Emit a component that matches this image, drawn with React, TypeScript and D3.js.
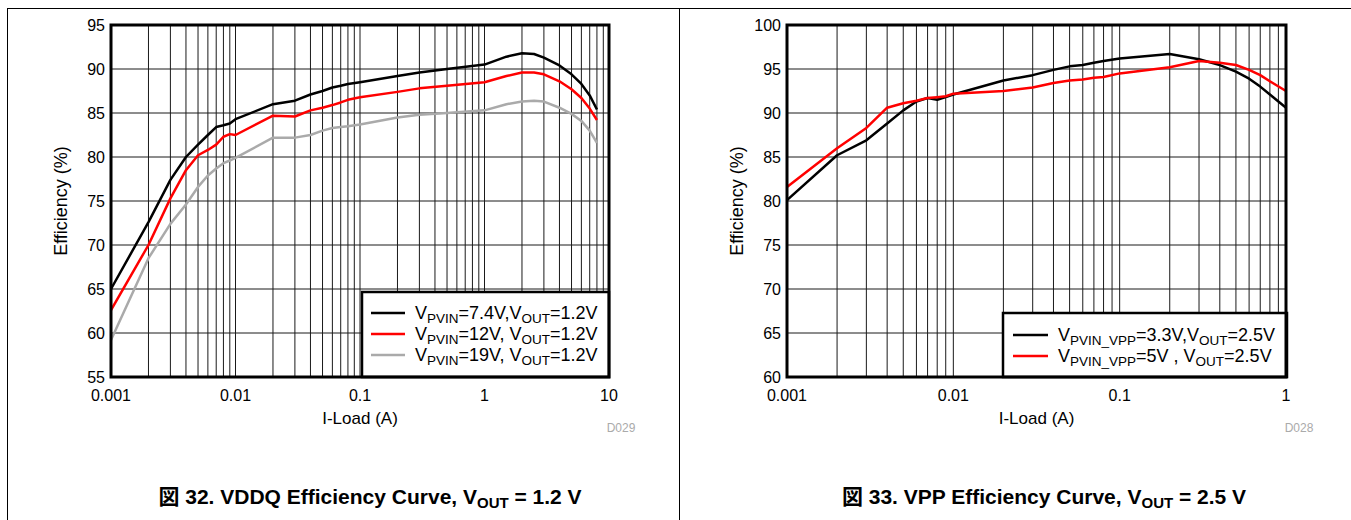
import React from 'react';
import * as d3 from 'd3';

// ---------- DATA ----------
const leftLoads = [0.001, 0.002, 0.003, 0.004, 0.005, 0.006, 0.007, 0.008, 0.009, 0.01, 0.02, 0.03, 0.04, 0.05, 0.06, 0.07, 0.08, 0.1, 0.2, 0.3, 0.5, 1, 1.5, 2, 2.5, 3, 4, 5, 6, 7, 8];
const leftPvin74 = [65, 72.6, 77.4, 80.0, 81.4, 82.5, 83.4, 83.6, 83.8, 84.3, 86.0, 86.4, 87.1, 87.5, 87.9, 88.1, 88.3, 88.5, 89.2, 89.6, 90.0, 90.5, 91.4, 91.8, 91.7, 91.3, 90.4, 89.4, 88.3, 87.0, 85.4];
const leftPvin12 = [62.6, 70.0, 75.3, 78.5, 80.2, 80.8, 81.4, 82.3, 82.6, 82.5, 84.7, 84.6, 85.3, 85.6, 85.9, 86.2, 86.5, 86.8, 87.4, 87.8, 88.1, 88.5, 89.2, 89.6, 89.6, 89.4, 88.6, 87.7, 86.7, 85.5, 84.2];
const leftPvin19 = [59.2, 68.5, 72.4, 74.6, 76.6, 77.9, 78.7, 79.3, 79.6, 79.9, 82.2, 82.2, 82.5, 83.0, 83.3, 83.4, 83.5, 83.7, 84.5, 84.8, 85.0, 85.3, 86.0, 86.3, 86.4, 86.3, 85.6, 84.9, 84.1, 83.0, 81.6];
const leftYTicks = [55, 60, 65, 70, 75, 80, 85, 90, 95];
const leftXTicks = [0.001, 0.01, 0.1, 1, 10];
const leftXTickLabels = ['0.001', '0.01', '0.1', '1', '10'];

const rightLoads = [0.001, 0.002, 0.003, 0.004, 0.005, 0.006, 0.007, 0.008, 0.009, 0.01, 0.02, 0.03, 0.04, 0.05, 0.06, 0.07, 0.08, 0.1, 0.2, 0.3, 0.4, 0.5, 0.6, 0.7, 0.8, 1];
const rightPvin33 = [80.1, 85.2, 86.9, 88.8, 90.3, 91.3, 91.7, 91.5, 91.8, 92.1, 93.7, 94.3, 94.9, 95.3, 95.45, 95.7, 95.9, 96.2, 96.7, 96.1, 95.45, 94.7, 93.9, 93.0, 92.1, 90.6];
const rightPvin5 = [81.6, 86.0, 88.3, 90.6, 91.1, 91.4, 91.7, 91.8, 91.9, 92.2, 92.5, 92.9, 93.4, 93.7, 93.8, 94.0, 94.1, 94.5, 95.2, 95.9, 95.7, 95.45, 94.9, 94.3, 93.6, 92.5];
const rightYTicks = [60, 65, 70, 75, 80, 85, 90, 95, 100];
const rightXTicks = [0.001, 0.01, 0.1, 1];
const rightXTickLabels = ['0.001', '0.01', '0.1', '1'];

const FONT = '"Liberation Sans", Arial, sans-serif';

type Seg = { t: string; sub?: boolean };
type LegendItem = { color: string; parts: Seg[] };
type Series = { color: string; loads: number[]; values: number[] };

function SubText({ x, y, parts, size, subSize }: { x: number; y: number; parts: Seg[]; size: number; subSize: number }) {
  return (
    <text x={x} y={y} fontSize={size} fontFamily={FONT} fill="#000">
      {parts.map((p, i) => {
        const prevSub = i > 0 && parts[i - 1].sub;
        let dy = 0;
        if (p.sub && !prevSub) dy = 4;
        if (!p.sub && prevSub) dy = -4;
        return (
          <tspan key={i} dy={dy} fontSize={p.sub ? subSize : size}>{p.t}</tspan>
        );
      })}
    </text>
  );
}

function Panel(props: {
  xDomain: [number, number]; xRange: [number, number];
  yDomain: [number, number]; yRange: [number, number];
  yTicks: number[]; xTicks: number[]; xTickLabels: string[];
  series: Series[];
  legend: LegendItem[];
  legendBox: { x0: number; y0: number; x1: number; y1: number; rowY: number[]; lx0: number; lx1: number; tx: number };
  code: string; codeX: number;
}) {
  const x = d3.scaleLog().domain(props.xDomain).range(props.xRange);
  const y = d3.scaleLinear().domain(props.yDomain).range(props.yRange);
  const [xa, xb] = props.xRange;
  const [yb, ya] = props.yRange; // yb bottom, ya top
  const minor: number[] = [];
  let dec = props.xDomain[0];
  while (dec < props.xDomain[1] * 0.999) {
    for (let k = 2; k <= 9; k++) minor.push(dec * k);
    minor.push(dec * 10);
    dec *= 10;
  }
  const line = d3.line<[number, number]>().x(d => x(d[0])).y(d => y(d[1]));
  const lb = props.legendBox;
  const midX = (xa + xb) / 2;
  return (
    <g>
      {/* grid */}
      {minor.map((v, i) => (
        <line key={'v' + i} x1={x(v)} x2={x(v)} y1={ya} y2={yb} stroke="#1a1a1a" strokeWidth={1} />
      ))}
      {props.yTicks.map((v, i) => (
        <line key={'h' + i} x1={xa} x2={xb} y1={y(v)} y2={y(v)} stroke="#1a1a1a" strokeWidth={1} />
      ))}
      {/* series */}
      {props.series.map((s, i) => (
        <path key={'s' + i} d={line(s.loads.map((l, j) => [l, s.values[j]] as [number, number])) || ''}
          fill="none" stroke={s.color} strokeWidth={2.5} strokeLinejoin="round" />
      ))}
      {/* legend */}
      <rect x={lb.x0} y={lb.y0} width={lb.x1 - lb.x0} height={lb.y1 - lb.y0} fill="#fff" stroke="#000" strokeWidth={2.5} />
      {props.legend.map((it, i) => (
        <g key={'l' + i}>
          <line x1={lb.lx0} x2={lb.lx1} y1={lb.rowY[i]} y2={lb.rowY[i]} stroke={it.color} strokeWidth={2.5} />
          <SubText x={lb.tx} y={lb.rowY[i] + 6} parts={it.parts} size={18} subSize={13.5} />
        </g>
      ))}
      {/* frame */}
      <rect x={xa} y={ya} width={xb - xa} height={yb - ya} fill="none" stroke="#000" strokeWidth={3} />
      {/* y ticks */}
      {props.yTicks.map((v, i) => (
        <text key={'yt' + i} x={xa - 6} y={y(v) + 6} textAnchor="end" fontSize={16} fontFamily={FONT}>{v}</text>
      ))}
      {props.xTicks.map((v, i) => (
        <text key={'xt' + i} x={x(v)} y={yb + 24} textAnchor="middle" fontSize={16} fontFamily={FONT}>{props.xTickLabels[i]}</text>
      ))}
      <text x={midX} y={yb + 47} textAnchor="middle" fontSize={17} fontFamily={FONT}>I-Load (A)</text>
      <text transform={`translate(${xa - 44},${(ya + yb) / 2}) rotate(-90)`} textAnchor="middle" fontSize={18} fontFamily={FONT}>Efficiency (%)</text>
      <text x={props.codeX} y={yb + 55} textAnchor="middle" fontSize={12} fontFamily={FONT} fill="#aaa">{props.code}</text>
    </g>
  );
}

function Caption({ cx, num, title, vout }: { cx: number; num: string; title: string; vout: string }) {
  return (
    <text x={cx} y={504} textAnchor="middle" fontSize={21} fontWeight="bold" fontFamily={FONT}>
      <tspan fontFamily='"Noto Sans CJK JP", sans-serif'>図</tspan>
      <tspan>{` ${num}. ${title}, V`}</tspan>
      <tspan fontSize={15} dy={4}>OUT</tspan>
      <tspan dy={-4}>{` = ${vout}`}</tspan>
    </text>
  );
}

export default function App() {
  return (
    <svg width={1351} height={520} style={{ position: 'absolute', left: 0, top: 0, background: '#fff' }}>
      <rect x={0} y={0} width={1351} height={520} fill="#fff" />
      {/* outer frame */}
      <line x1={7} x2={1351} y1={8.5} y2={8.5} stroke="#000" strokeWidth={1} />
      <line x1={7.5} x2={7.5} y1={8} y2={520} stroke="#000" strokeWidth={1} />
      <line x1={679.5} x2={679.5} y1={8} y2={520} stroke="#000" strokeWidth={1} />

      <Panel
        xDomain={[0.001, 10]} xRange={[111, 609]}
        yDomain={[55, 95]} yRange={[377, 25]}
        yTicks={leftYTicks} xTicks={leftXTicks} xTickLabels={leftXTickLabels}
        series={[
          { color: '#000', loads: leftLoads, values: leftPvin74 },
          { color: '#ff0000', loads: leftLoads, values: leftPvin12 },
          { color: '#aaaaaa', loads: leftLoads, values: leftPvin19 },
        ]}
        legend={[
          { color: '#000', parts: [{ t: 'V' }, { t: 'PVIN', sub: true }, { t: '=7.4V,V' }, { t: 'OUT', sub: true }, { t: '=1.2V' }] },
          { color: '#ff0000', parts: [{ t: 'V' }, { t: 'PVIN', sub: true }, { t: '=12V, V' }, { t: 'OUT', sub: true }, { t: '=1.2V' }] },
          { color: '#aaaaaa', parts: [{ t: 'V' }, { t: 'PVIN', sub: true }, { t: '=19V, V' }, { t: 'OUT', sub: true }, { t: '=1.2V' }] },
        ]}
        legendBox={{ x0: 362, y0: 292, x1: 609, y1: 377, rowY: [313, 334, 355], lx0: 371, lx1: 405, tx: 415 }}
        code="D029" codeX={621}
      />
      <Panel
        xDomain={[0.001, 1]} xRange={[787, 1286]}
        yDomain={[60, 100]} yRange={[377, 25]}
        yTicks={rightYTicks} xTicks={rightXTicks} xTickLabels={rightXTickLabels}
        series={[
          { color: '#000', loads: rightLoads, values: rightPvin33 },
          { color: '#ff0000', loads: rightLoads, values: rightPvin5 },
        ]}
        legend={[
          { color: '#000', parts: [{ t: 'V' }, { t: 'PVIN_VPP', sub: true }, { t: '=3.3V,V' }, { t: 'OUT', sub: true }, { t: '=2.5V' }] },
          { color: '#ff0000', parts: [{ t: 'V' }, { t: 'PVIN_VPP', sub: true }, { t: '=5V , V' }, { t: 'OUT', sub: true }, { t: '=2.5V' }] },
        ]}
        legendBox={{ x0: 1003, y0: 313, x1: 1287, y1: 377, rowY: [335, 356], lx0: 1013, lx1: 1048, tx: 1058 }}
        code="D028" codeX={1299}
      />
      <Caption cx={370} num="32" title="VDDQ Efficiency Curve" vout="1.2 V" />
      <Caption cx={1044} num="33" title="VPP Efficiency Curve" vout="2.5 V" />
    </svg>
  );
}
